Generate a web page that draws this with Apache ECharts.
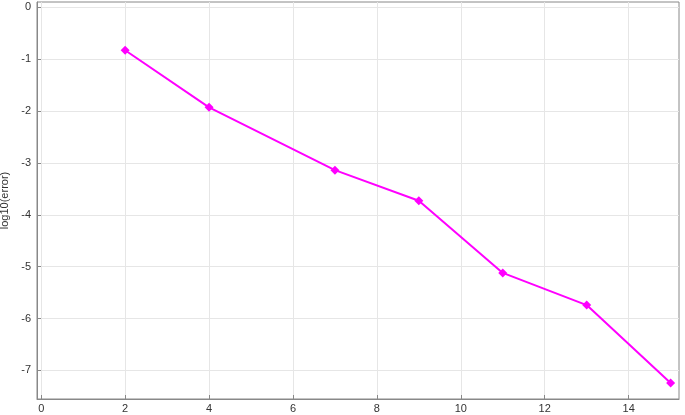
<!DOCTYPE html>
<html><head><meta charset="utf-8">
<script src="https://cdn.jsdelivr.net/npm/echarts@6/dist/echarts.min.js"></script>
<style>html,body{margin:0;padding:0;background:#fff}#c{width:685px;height:415px}</style>
</head><body><div id="c"></div>
<script>
const xValues = [2, 4, 7, 9, 11, 13, 15];
const yValues = [-0.83, -1.93, -3.14, -3.73, -5.12, -5.74, -7.24];
const xTicks = [0, 2, 4, 6, 8, 10, 12, 14];
const yTicks = [0, -1, -2, -3, -4, -5, -6, -7];
const yName = 'log10(error)';

const chart = echarts.init(document.getElementById('c'));
const lab = {fontFamily: 'Liberation Sans', fontSize: 11, color: '#333'};
const ax = {
  axisLine: {show: true, onZero: false, lineStyle: {color: '#888'}},
  splitLine: {show: true, lineStyle: {color: '#e6e6e6'}},
};
chart.setOption({
  animation: false,
  grid: {left: 37, right: 6, top: 2, bottom: 16, containLabel: false, outerBoundsMode: 'none', show: true, borderColor: '#888', borderWidth: 1},
  xAxis: Object.assign({type: 'value', min: -0.1, max: 15.2,
    axisTick: {show: true, inside: true, length: 4, customValues: xTicks, lineStyle: {color: '#888'}},
    axisLabel: Object.assign({customValues: xTicks, margin: 4}, lab)}, ax),
  yAxis: Object.assign({type: 'value', min: -7.55, max: 0.1,
    name: yName, nameLocation: 'middle', nameGap: 27, nameTextStyle: lab,
    axisTick: {show: true, inside: true, length: 4, customValues: yTicks, lineStyle: {color: '#888'}},
    axisLabel: Object.assign({customValues: yTicks, margin: 6}, lab)}, ax),
  series: [{type: 'line', data: xValues.map((x, i) => [x, yValues[i]]),
    symbol: 'diamond', symbolSize: 9, lineStyle: {color: '#ff00ff', width: 2},
    itemStyle: {color: '#ff00ff'}}]
});
</script></body></html>
